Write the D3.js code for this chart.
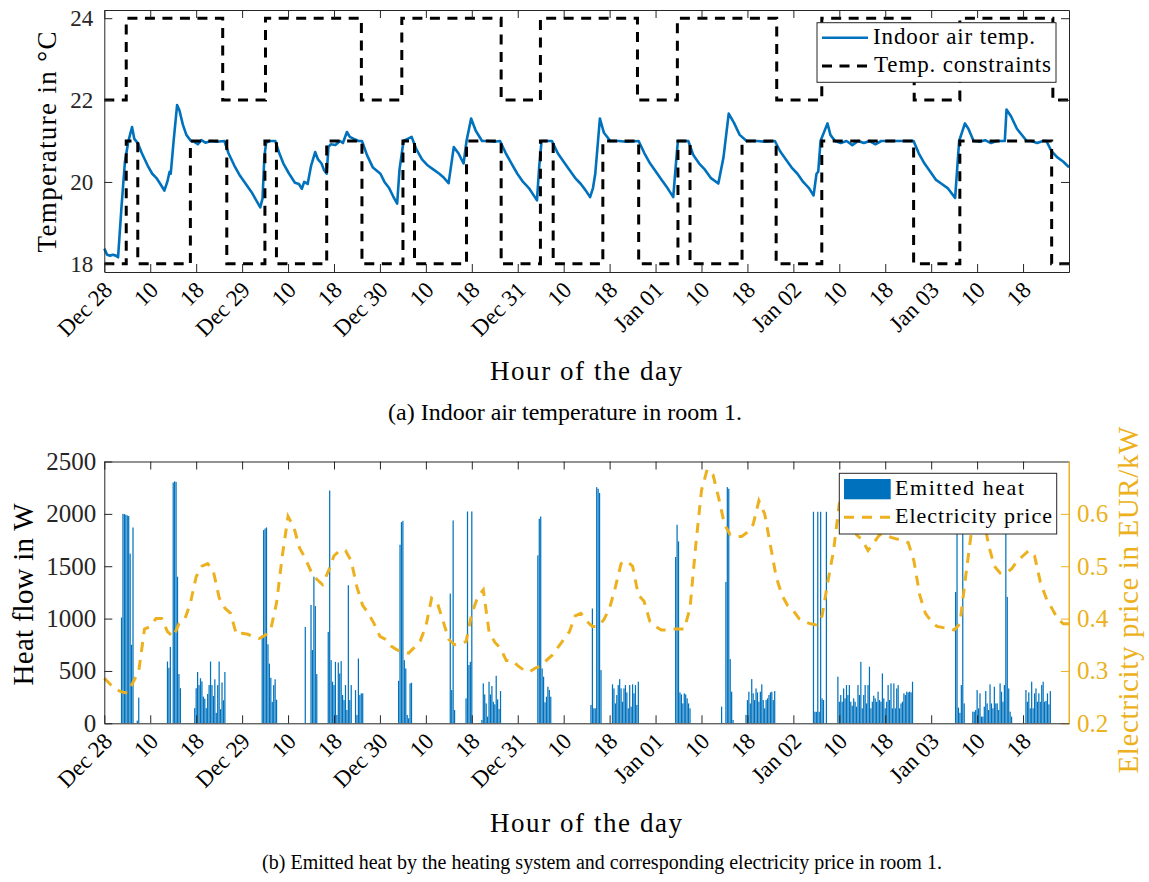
<!DOCTYPE html>
<html>
<head>
<meta charset="utf-8">
<script src="https://cdn.jsdelivr.net/npm/d3@7"></script>
<style>
    body { margin: 0; background: #fff; }
    text { font-family: "Liberation Serif", "Times New Roman", serif; fill: #000; }
</style>
</head>
<body>
<svg id="chart" width="1149" height="882"></svg>
<script>
// ---- data (hours since Dec 28 00:00) ----
var tickHours = [0, 8, 16, 24, 32, 40, 48, 56, 64, 72, 80, 88, 96, 104, 112, 120, 128, 136, 144, 152, 160];
var tickLabels = ["Dec 28", "10", "18", "Dec 29", "10", "18", "Dec 30", "10", "18", "Dec 31", "10", "18",
    "Jan 01", "10", "18", "Jan 02", "10", "18", "Jan 03", "10", "18"];
var tempTicks = [18, 20, 22, 24];
var heatTicks = [0, 500, 1000, 1500, 2000, 2500];
var priceTicks = [0.2, 0.3, 0.4, 0.5, 0.6];

// indoor air temperature, read point by point
var tempHours = [0, 0.5, 1, 1.5, 2, 2.4, 3.0, 3.6, 4.2, 4.83, 5.23, 5.83, 6.54, 7.55, 8.35, 9.05, 9.76, 10.46, 10.97, 11.37,
    11.57, 12.07, 12.68, 13.08, 13.68, 14.29, 15.09, 15.69, 16.3, 16.9, 17.6, 18.6, 19.6, 20.92, 21.63, 22.64, 23.64, 24.65,
    25.65, 26.46, 27.16, 27.56, 27.87, 28.17, 28.67, 29.78, 30.48, 31.19, 32.19, 33.2, 33.9, 34.4, 34.81, 35.41, 36.02, 36.72,
    37.22, 37.83, 38.23, 38.73, 39.03, 39.44, 40.24, 41.05, 41.55, 42.25, 42.76, 43.46, 44.26, 44.87, 45.77, 46.78, 48.09,
    48.79, 49.6, 50.3, 51.0, 51.41, 52.11, 52.82, 53.52, 54.33, 55.33, 56.34, 57.34, 58.35, 59.15, 59.96, 60.86, 61.67, 62.57,
    63.08, 63.88, 64.69, 65.79, 66.9, 67.9, 68.91, 69.92, 70.92, 71.93, 72.93, 73.94, 75.35, 75.75, 76.15, 77.96, 78.97, 79.97,
    80.98, 81.98, 82.99, 83.79, 84.6, 85.1, 85.5, 86.31, 87.01, 88.12, 89.53, 91.04, 93.05, 94.06, 95.06, 96.07, 97.07, 98.08,
    99.08, 99.58, 99.89, 101.7, 102.6, 103.6, 104.6, 105.6, 106.93, 107.83, 108.74, 109.64, 110.65, 111.86, 113.67, 115.18,
    116.78, 117.69, 118.7, 119.7, 120.71, 121.71, 122.72, 123.52, 124.03, 124.33, 124.73, 125.94, 126.45, 127.25, 128.26,
    129.26, 130.27, 131.28, 132.28, 133.29, 134.29, 135.3, 136.8, 138.3, 140.93, 141.84, 142.84, 143.85, 144.85, 145.86,
    146.86, 148.17, 148.87, 149.88, 150.48, 151.39, 152.39, 153.4, 154.4, 155.41, 156.82, 157.12, 157.92, 158.93, 160.64,
    161.45, 162.45, 163.46, 164.06, 164.96, 165.97, 166.97, 168];
var tempValues = [18.37, 18.22, 18.2, 18.22, 18.2, 18.16, 19.4, 20.5, 21.0, 21.34, 21.05, 20.95, 20.7, 20.4, 20.2, 20.1, 19.95, 19.79, 20.0, 20.25,
    20.2, 21.0, 21.88, 21.75, 21.4, 21.15, 21.0, 20.98, 20.92, 21.02, 20.96, 21.0, 20.98, 21.0, 20.7, 20.4, 20.15, 19.95,
    19.75, 19.55, 19.38, 19.6, 20.6, 20.95, 21.0, 21.0, 20.7, 20.45, 20.2, 19.98, 19.95, 19.83, 20.0, 19.95, 20.4, 20.73,
    20.55, 20.45, 20.3, 20.2, 20.85, 20.92, 20.9, 21.0, 20.95, 21.22, 21.1, 21.05, 21.0, 21.0, 20.65, 20.35, 20.2,
    20.0, 19.85, 19.65, 19.47, 20.3, 21.0, 21.05, 21.1, 20.8, 20.55, 20.4, 20.3, 20.2, 20.1, 19.97, 20.85, 20.7, 20.45,
    21.0, 21.55, 21.25, 21.0, 21.0, 20.98, 21.0, 20.7, 20.45, 20.2, 20.0, 19.85, 19.55, 20.4, 21.0, 21.0, 20.7, 20.5,
    20.3, 20.1, 19.95, 19.8, 19.63, 19.85, 20.2, 21.55, 21.2, 21.0, 21.0, 20.98, 21.0, 20.7, 20.45, 20.25, 20.05, 19.85,
    19.63, 20.5, 21.0, 21.0, 20.65, 20.45, 20.3, 20.1, 19.96, 20.6, 21.67, 21.45, 21.15, 21.0, 21.0, 20.98,
    21.0, 20.75, 20.55, 20.35, 20.2, 20.0, 19.85, 19.67, 20.2, 20.25, 21.0, 21.43, 21.15, 21.0, 20.95,
    21.0, 20.9, 21.0, 20.95, 21.0, 20.92, 21.0, 21.0, 21.0, 21.0, 20.7, 20.45, 20.25, 20.05, 19.95,
    19.85, 19.61, 21.0, 21.43, 21.3, 21.0, 20.98, 21.02, 20.95, 21.0, 21.0, 21.77, 21.6, 21.3, 21.0,
    21.0, 20.95, 21.0, 21.0, 20.75, 20.6, 20.5, 20.36];

// temperature constraints (step changes)
var upperHours = [0, 3.82, 20.62, 28.07, 44.77, 51.81, 69.11, 75.95, 92.85, 99.8, 117.1, 124.95, 141.04, 148.99, 165.19, 168];
var upperValues = [22, 24, 22, 24, 22, 24, 22, 24, 22, 24, 22, 24, 22, 24, 22, 22];
var lowerHours = [0, 3.82, 5.83, 14.99, 21.33, 27.97, 29.98, 38.73, 44.87, 52.01, 54.02, 63.08, 69.11, 75.95, 78.17, 86.82,
    93.06, 99.9, 102.0, 111.06, 117.0, 124.95, 140.94, 148.99, 164.98, 168];
var lowerValues = [18, 21, 18, 21, 18, 21, 18, 21, 18, 21, 18, 21, 18, 21, 18, 21, 18, 21, 18, 21, 18, 21, 18, 21, 18, 18];

// emitted heat in W, 15-minute samples; each burst starts at heatStart[i]
var heatStart = [3.0, 11.0, 15.75, 27.5, 35.0, 39.0, 51.25, 60.25, 63.0, 65.75, 75.5, 84.75, 88.5, 99.5, 107.5, 111.75,
    123.5, 127.75, 148.25, 151.25, 160.5];
var heatValues = [
    [1010, 2000, 1998, 1992, 1985, 1980, 1620, 750, 1870, 0, 0, 25, 245],
    [590, 530, 730, 0, 2300, 2310, 2305, 1400, 470, 335],
    [145, 335, 490, 365, 430, 400, 255, 235, 145, 280, 365, 590, 365, 260, 420, 100, 365, 590, 135, 390, 220, 490],
    [842, 1845, 1860, 1870, 755, 570, 435, 205, 365, 420, 225],
    [920, 0, 0, 0, 1130, 700, 1400, 1120, 470],
    [873, 2223, 603, 397, 365, 587, 80, 581, 476, 594, 270, 222, 365, 127, 1318, 222, 365, 0, 0, 317, 80, 619, 270, 286, 286],
    [406, 1705, 1921, 1934, 603, 524, 80, 48, 381, 387],
    [1239, 318, 1937, 127],
    [238, 2023, 556, 587, 2023],
    [32, 381, 276, 190, 64, 397, 276, 356, 206, 181, 454, 229, 137, 308],
    [1604, 1953, 1975, 524, 445, 200, 254, 349, 318, 254],
    [175, 1096, 143, 143, 2255, 2240, 2200, 508],
    [372, 333, 190, 270, 365, 422, 333, 206, 333, 365, 295, 143, 365, 159, 372, 286, 365, 175, 397],
    [1588, 1896, 1737, 295, 276, 190, 286, 276, 238, 190, 143],
    [159, 0, 0, 1350, 2255, 2240, 613, 302, 32],
    [80, 222, 302, 190, 422, 286, 222, 333, 295, 206, 302, 372, 222, 143, 222, 238, 270, 295, 302, 222, 308],
    [2020, 110, 110, 2020, 110, 2020, 238, 222, 0, 2020],
    [445, 206, 270, 206, 333, 238, 365, 270, 365, 206, 168, 238, 206, 159, 365, 270, 587, 143, 270, 365, 190, 365,
        540, 143, 206, 263, 238, 206, 302, 222, 206, 476, 238, 143, 206, 365, 222, 381, 143, 381, 143, 333, 365, 143,
        190, 206, 286, 270, 302, 295, 302, 295, 397],
    [1254, 2020, 150, 100, 365, 2020, 190],
    [111, 111, 127, 318, 143, 286, 64, 64, 159, 308, 190, 127, 372, 190, 143, 349, 190, 190, 127, 381, 302, 206, 365,
        2250, 1207, 333, 111, 64],
    [318, 206, 295, 143, 397, 143, 286, 333, 206, 286, 206, 365, 397, 206, 213, 286, 181, 308]
];

// electricity price in EUR/kW, hourly from hour 0 to 168
var priceValues = [0.286, 0.275, 0.265, 0.26, 0.258, 0.278, 0.30, 0.38, 0.385, 0.40, 0.40, 0.375, 0.365, 0.39, 0.398, 0.43,
    0.48, 0.50, 0.505, 0.49, 0.44, 0.42, 0.41, 0.37, 0.372, 0.37, 0.365, 0.362, 0.368, 0.38, 0.43, 0.52, 0.595, 0.575,
    0.535, 0.515, 0.49, 0.475, 0.465, 0.49, 0.52, 0.53, 0.53, 0.51, 0.46, 0.425, 0.41, 0.39, 0.366, 0.36, 0.347, 0.34,
    0.336, 0.334, 0.345, 0.357, 0.385, 0.439, 0.43, 0.395, 0.36, 0.35, 0.352, 0.356, 0.41, 0.44, 0.455, 0.375, 0.355,
    0.343, 0.32, 0.32, 0.31, 0.302, 0.298, 0.305, 0.31, 0.32, 0.33, 0.345, 0.36, 0.375, 0.405, 0.41, 0.395, 0.385, 0.385,
    0.398, 0.42, 0.46, 0.505, 0.51, 0.50, 0.445, 0.433, 0.395, 0.385, 0.378, 0.378, 0.38, 0.38, 0.38, 0.42, 0.54, 0.645,
    0.685, 0.675, 0.63, 0.58, 0.56, 0.557, 0.557, 0.565, 0.58, 0.625, 0.60, 0.54, 0.48, 0.445, 0.425, 0.415, 0.40, 0.394,
    0.39, 0.388, 0.405, 0.47, 0.53, 0.62, 0.635, 0.60, 0.56, 0.55, 0.53, 0.545, 0.56, 0.56, 0.555, 0.552, 0.55, 0.545,
    0.51, 0.445, 0.41, 0.395, 0.385, 0.383, 0.382, 0.378, 0.39, 0.48, 0.565, 0.62, 0.60, 0.54, 0.50, 0.487, 0.487, 0.495,
    0.51, 0.52, 0.53, 0.52, 0.47, 0.44, 0.42, 0.40, 0.39, 0.39];

// ---- drawing ----
var blue = "#0072BD", orange = "#EDB120", axisColor = "#262626";
var fontFamily = "'Liberation Serif', 'Times New Roman', serif";
var svg = d3.select("#chart");

var left = 104.3, right = 1069;
var x = d3.scaleLinear().domain([0, 168]).range([left, right]);

// top panel
var top1 = 10, bottom1 = 272;
var yTemp = d3.scaleLinear().domain([17.8, 24.2]).range([bottom1, top1]);

// bottom panel
var top2 = 461.5, bottom2 = 723.3;
var yHeat = d3.scaleLinear().domain([0, 2500]).range([bottom2, top2]);
var yPrice = d3.scaleLinear().domain([0.2, 0.7]).range([bottom2, top2]);

svg.append("defs").append("clipPath").attr("id", "clip2")
    .append("rect").attr("x", left).attr("y", top2).attr("width", right - left).attr("height", bottom2 - top2);

function styleAxis(g, color, size) {
    g.attr("font-family", fontFamily);
    g.selectAll("path, line").attr("stroke", color).attr("stroke-width", 1);
    g.selectAll("text").attr("fill", color).style("fill", color).attr("font-size", size || "22px");
}

function drawXAxes(yBottom, yTop) {
    var gb = svg.append("g").attr("transform", "translate(0," + yBottom + ")")
        .call(d3.axisBottom(x).tickValues(tickHours).tickSizeInner(-8).tickSizeOuter(0).tickFormat(""));
    styleAxis(gb, axisColor);
    var gt = svg.append("g").attr("transform", "translate(0," + yTop + ")")
        .call(d3.axisTop(x).tickValues(tickHours).tickSizeInner(-8).tickSizeOuter(0).tickFormat(""));
    styleAxis(gt, axisColor);

    // rotated tick labels
    svg.append("g").attr("font-family", fontFamily).selectAll("text")
        .data(tickHours)
        .enter()
        .append("text")
        .attr("transform", function (d) { return "translate(" + (x(d) + 4) + "," + (yBottom + 14) + ") rotate(-45)"; })
        .attr("text-anchor", "end")
        .attr("dominant-baseline", "central")
        .attr("font-size", "23px")
        .text(function (d, i) { return tickLabels[i]; });
}

// ===== panel (a) =====
svg.append("path")
    .datum(d3.zip(tempHours, tempValues))
    .attr("fill", "none")
    .attr("stroke", blue)
    .attr("stroke-width", 2.6)
    .attr("stroke-linejoin", "round")
    .attr("d", d3.line().x(function (d) { return x(d[0]); }).y(function (d) { return yTemp(d[1]); }));

var stepLine = d3.line().curve(d3.curveStepAfter)
    .x(function (d) { return x(d[0]); }).y(function (d) { return yTemp(d[1]); });
[d3.zip(upperHours, upperValues), d3.zip(lowerHours, lowerValues)].forEach(function (series) {
    svg.append("path")
        .datum(series)
        .attr("fill", "none")
        .attr("stroke", "#000")
        .attr("stroke-width", 3)
        .attr("stroke-dasharray", "10,7.5")
        .attr("d", stepLine);
});

var gLeft1 = svg.append("g").attr("transform", "translate(" + left + ",0)")
    .call(d3.axisLeft(yTemp).tickValues(tempTicks).tickSizeInner(-8).tickSizeOuter(0).tickPadding(11)
        .tickFormat(d3.format("d")));
styleAxis(gLeft1, axisColor, "23px");
var gRight1 = svg.append("g").attr("transform", "translate(" + right + ",0)")
    .call(d3.axisRight(yTemp).tickValues(tempTicks).tickSizeInner(-8).tickSizeOuter(0).tickFormat(""));
styleAxis(gRight1, axisColor);
drawXAxes(bottom1, top1);

svg.append("text")
    .attr("transform", "translate(56," + ((top1 + bottom1) / 2 + 1) + ") rotate(-90)")
    .attr("text-anchor", "middle")
    .attr("font-size", "27px")
    .attr("textLength", 221)
    .text("Temperature in \u00B0C");

svg.append("text")
    .attr("x", 586).attr("y", 380)
    .attr("text-anchor", "middle")
    .attr("font-size", "27px")
    .attr("textLength", 192)
    .text("Hour of the day");

svg.append("text")
    .attr("x", 565).attr("y", 420)
    .attr("text-anchor", "middle")
    .attr("font-size", "24px")
    .text("(a) Indoor air temperature in room 1.");

// legend (a)
var leg1 = svg.append("g");
leg1.append("rect").attr("x", 817).attr("y", 22.7).attr("width", 239).attr("height", 59.6)
    .attr("fill", "#fff").attr("stroke", axisColor).attr("stroke-width", 1);
leg1.append("line").attr("x1", 822).attr("x2", 868).attr("y1", 37.7).attr("y2", 37.7)
    .attr("stroke", blue).attr("stroke-width", 2.6);
leg1.append("line").attr("x1", 822).attr("x2", 868).attr("y1", 66).attr("y2", 66)
    .attr("stroke", "#000").attr("stroke-width", 3).attr("stroke-dasharray", "10,7.5");
leg1.append("text").attr("x", 873).attr("y", 44).attr("font-size", "23px")
    .attr("textLength", 162).text("Indoor air temp.");
leg1.append("text").attr("x", 874).attr("y", 72).attr("font-size", "23px")
    .attr("textLength", 177).text("Temp. constraints");

// ===== panel (b) =====
var bars = [];
heatStart.forEach(function (s, i) {
    heatValues[i].forEach(function (v, j) {
        if (v > 0) bars.push({ hour: s + j * 0.25, value: v });
    });
});
var barW = (x(0.25) - x(0)) * 0.85;
svg.append("g").attr("clip-path", "url(#clip2)")
    .selectAll("rect")
    .data(bars)
    .enter()
    .append("rect")
    .attr("x", function (d) { return x(d.hour) - barW / 2; })
    .attr("y", function (d) { return yHeat(d.value); })
    .attr("width", barW)
    .attr("height", function (d) { return bottom2 - yHeat(d.value); })
    .attr("fill", blue);

svg.append("path")
    .datum(priceValues)
    .attr("fill", "none")
    .attr("stroke", orange)
    .attr("stroke-width", 3)
    .attr("stroke-dasharray", "10,8")
    .attr("d", d3.line().x(function (d, i) { return x(i); }).y(function (d) { return yPrice(d); }));

var gLeft2 = svg.append("g").attr("transform", "translate(" + left + ",0)")
    .call(d3.axisLeft(yHeat).tickValues(heatTicks).tickSizeInner(-8).tickSizeOuter(0).tickPadding(8)
        .tickFormat(d3.format("d")));
styleAxis(gLeft2, axisColor, "25px");
var gRight2 = svg.append("g").attr("transform", "translate(" + right + ",0)")
    .call(d3.axisRight(yPrice).tickValues(priceTicks).tickSizeInner(-8).tickSizeOuter(0).tickPadding(8)
        .tickFormat(d3.format(".1f")));
styleAxis(gRight2, orange, "25px");
drawXAxes(bottom2, top2);
// right edge of the box in orange
svg.append("line").attr("x1", right).attr("x2", right).attr("y1", top2).attr("y2", bottom2)
    .attr("stroke", orange).attr("stroke-width", 1);

svg.append("text")
    .attr("transform", "translate(33," + ((top2 + bottom2) / 2 + 2) + ") rotate(-90)")
    .attr("text-anchor", "middle")
    .attr("font-size", "29px")
    .attr("textLength", 182)
    .text("Heat flow in W");

svg.append("text")
    .attr("transform", "translate(1138,600) rotate(-90)")
    .attr("text-anchor", "middle")
    .attr("font-size", "29px")
    .attr("textLength", 347)
    .style("fill", orange)
    .text("Electricity price in EUR/kW");

svg.append("text")
    .attr("x", 586).attr("y", 832)
    .attr("text-anchor", "middle")
    .attr("font-size", "27px")
    .attr("textLength", 192)
    .text("Hour of the day");

svg.append("text")
    .attr("x", 602).attr("y", 869)
    .attr("text-anchor", "middle")
    .attr("font-size", "20px")
    .text("(b) Emitted heat by the heating system and corresponding electricity price in room 1.");

// legend (b)
var leg2 = svg.append("g");
leg2.append("rect").attr("x", 839.3).attr("y", 473.3).attr("width", 217.4).attr("height", 60.7)
    .attr("fill", "#fff").attr("stroke", axisColor).attr("stroke-width", 1);
leg2.append("rect").attr("x", 844).attr("y", 479).attr("width", 46.7).attr("height", 20.3).attr("fill", blue);
leg2.append("line").attr("x1", 844).attr("x2", 891).attr("y1", 517.3).attr("y2", 517.3)
    .attr("stroke", orange).attr("stroke-width", 3).attr("stroke-dasharray", "10,8");
leg2.append("text").attr("x", 895).attr("y", 495).attr("font-size", "22px")
    .attr("textLength", 129).text("Emitted heat");
leg2.append("text").attr("x", 895).attr("y", 523.3).attr("font-size", "22px")
    .attr("textLength", 157).text("Electricity price");
</script>
</body>
</html>
